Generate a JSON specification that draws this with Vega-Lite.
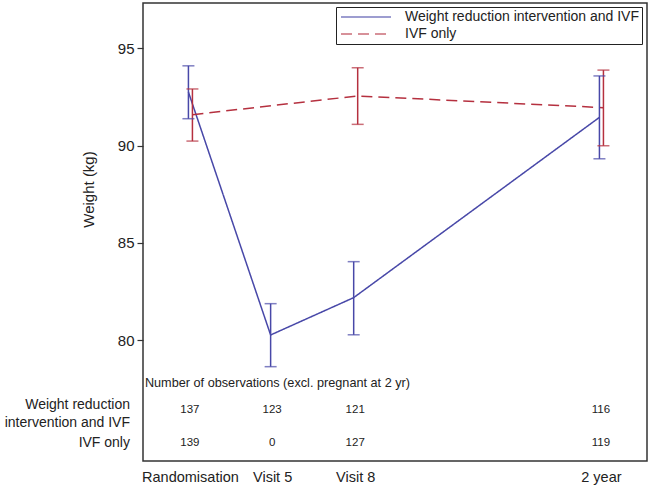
{
  "$schema": "https://vega.github.io/schema/vega-lite/v6.json",
  "width": 504,
  "height": 458,
  "autosize": {"type": "none"},
  "padding": {"left": 143, "top": 3, "right": 3, "bottom": 24},
  "background": "white",
  "config": {
    "font": "Liberation Sans",
    "view": {"stroke": "#333", "strokeWidth": 1.5},
    "axis": {"grid": false, "labelColor": "#222", "titleColor": "#222", "titleFontWeight": "normal"}
  },
  "datasets": {
    "means": [
      {"group": "Weight reduction intervention and IVF", "month": 0, "weight": 92.75, "lower": 91.38, "upper": 94.1},
      {"group": "Weight reduction intervention and IVF", "month": 4.8, "weight": 80.26, "lower": 78.63, "upper": 81.87},
      {"group": "Weight reduction intervention and IVF", "month": 9.65, "weight": 82.18, "lower": 80.27, "upper": 84.03},
      {"group": "Weight reduction intervention and IVF", "month": 24, "weight": 91.45, "lower": 89.32, "upper": 93.58},
      {"group": "IVF only", "month": 0, "weight": 91.59, "lower": 90.23, "upper": 92.91},
      {"group": "IVF only", "month": 9.65, "weight": 92.55, "lower": 91.09, "upper": 94.0},
      {"group": "IVF only", "month": 24, "weight": 91.95, "lower": 89.99, "upper": 93.88}
    ],
    "counts": [
      {"group": "Weight reduction intervention and IVF", "month": 0, "n": 137},
      {"group": "Weight reduction intervention and IVF", "month": 4.8, "n": 123},
      {"group": "Weight reduction intervention and IVF", "month": 9.65, "n": 121},
      {"group": "Weight reduction intervention and IVF", "month": 24, "n": 116},
      {"group": "IVF only", "month": 0, "n": 139},
      {"group": "IVF only", "month": 4.8, "n": 0},
      {"group": "IVF only", "month": 9.65, "n": 127},
      {"group": "IVF only", "month": 24, "n": 119}
    ]
  },
  "encoding": {
    "y": {
      "type": "quantitative",
      "scale": {"domain": [73.78, 97.33], "nice": false, "zero": false},
      "axis": {
        "values": [80, 85, 90, 95],
        "domain": false, "tickSize": 6, "tickColor": "#333", "tickWidth": 1.2,
        "labelFontSize": 15, "labelPadding": 3,
        "title": "Weight (kg)", "titleFontSize": 15, "titleX": -55, "titleY": 186,
        "titleBaseline": "middle", "titleAngle": -90
      }
    }
  },
  "layer": [
    {
      "data": {"name": "means"},
      "transform": [{"filter": "datum.group == 'Weight reduction intervention and IVF'"}],
      "mark": {"type": "line", "xOffset": -1.5, "strokeWidth": 1.5},
      "encoding": {
        "x": {
          "field": "month", "type": "quantitative",
          "scale": {"domain": [-2.74, 26.69], "nice": false, "zero": false},
          "axis": {
            "values": [0, 4.8, 9.65, 24],
            "labelExpr": "datum.value == 0 ? 'Randomisation' : datum.value < 6 ? 'Visit 5' : datum.value < 12 ? 'Visit 8' : '2 year'",
            "ticks": false, "domain": false, "title": null,
            "labelFontSize": 14.5, "labelPadding": 9, "labelFlush": false, "labelOverlap": false
          }
        },
        "y": {"field": "weight"},
        "color": {"field": "group", "type": "nominal",
          "scale": {"domain": ["Weight reduction intervention and IVF", "IVF only"], "range": ["#4848a8", "#b5303f"]},
          "legend": {
            "orient": "none", "legendX": 193, "legendY": 4, "title": null,
            "symbolType": "M-1,0H9", "symbolSize": 100, "symbolStrokeWidth": 1.5,
            "labelFontSize": 14, "labelColor": "#222", "labelOffset": 52, "labelLimit": 400,
            "strokeColor": "#222", "fillColor": "white", "padding": 3, "rowPadding": 3
          }
        },
        "strokeDash": {"field": "group", "type": "nominal",
          "scale": {"domain": ["Weight reduction intervention and IVF", "IVF only"], "range": [[1, 0], [11, 6]]},
          "legend": {
            "orient": "none", "legendX": 193, "legendY": 4, "title": null,
            "symbolType": "M-1,0H9", "symbolSize": 100, "symbolStrokeWidth": 1.5,
            "labelFontSize": 14, "labelColor": "#222", "labelOffset": 52, "labelLimit": 400,
            "strokeColor": "#222", "fillColor": "white", "padding": 3, "rowPadding": 3
          }
        }
      }
    },
    {
      "data": {"name": "means"},
      "transform": [{"filter": "datum.group == 'IVF only'"}],
      "mark": {"type": "line", "xOffset": 2.5, "strokeWidth": 1.5},
      "encoding": {
        "x": {"field": "month", "type": "quantitative"},
        "y": {"field": "weight"},
        "color": {"field": "group", "type": "nominal"},
        "strokeDash": {"field": "group", "type": "nominal"}
      }
    },
    {
      "data": {"name": "means"},
      "transform": [{"filter": "datum.group == 'Weight reduction intervention and IVF'"}],
      "mark": {"type": "rule", "xOffset": -1.5, "strokeWidth": 1.5},
      "encoding": {"x": {"field": "month", "type": "quantitative"}, "y": {"field": "lower"}, "y2": {"field": "upper"}, "color": {"field": "group", "type": "nominal"}}
    },
    {
      "data": {"name": "means"},
      "transform": [{"filter": "datum.group == 'IVF only'"}],
      "mark": {"type": "rule", "xOffset": 2.5, "strokeWidth": 1.5},
      "encoding": {"x": {"field": "month", "type": "quantitative"}, "y": {"field": "lower"}, "y2": {"field": "upper"}, "color": {"field": "group", "type": "nominal"}}
    },
    {
      "data": {"name": "means"},
      "transform": [{"filter": "datum.group == 'Weight reduction intervention and IVF'"}],
      "mark": {"type": "tick", "orient": "horizontal", "xOffset": -1.5, "size": 12, "thickness": 1.5},
      "encoding": {"x": {"field": "month", "type": "quantitative"}, "y": {"field": "lower"}, "color": {"field": "group", "type": "nominal"}}
    },
    {
      "data": {"name": "means"},
      "transform": [{"filter": "datum.group == 'Weight reduction intervention and IVF'"}],
      "mark": {"type": "tick", "orient": "horizontal", "xOffset": -1.5, "size": 12, "thickness": 1.5},
      "encoding": {"x": {"field": "month", "type": "quantitative"}, "y": {"field": "upper"}, "color": {"field": "group", "type": "nominal"}}
    },
    {
      "data": {"name": "means"},
      "transform": [{"filter": "datum.group == 'IVF only'"}],
      "mark": {"type": "tick", "orient": "horizontal", "xOffset": 2.5, "size": 12, "thickness": 1.5},
      "encoding": {"x": {"field": "month", "type": "quantitative"}, "y": {"field": "lower"}, "color": {"field": "group", "type": "nominal"}}
    },
    {
      "data": {"name": "means"},
      "transform": [{"filter": "datum.group == 'IVF only'"}],
      "mark": {"type": "tick", "orient": "horizontal", "xOffset": 2.5, "size": 12, "thickness": 1.5},
      "encoding": {"x": {"field": "month", "type": "quantitative"}, "y": {"field": "upper"}, "color": {"field": "group", "type": "nominal"}}
    },
    {
      "data": {"values": [{"label": "Number of observations (excl. pregnant at 2 yr)"}]},
      "mark": {"type": "text", "align": "left", "baseline": "middle", "fontSize": 12.7, "color": "#222"},
      "encoding": {"x": {"datum": -2.63}, "y": {"datum": 77.8}, "text": {"field": "label"}}
    },
    {
      "data": {"values": [{"label": "Weight reduction\nintervention and IVF"}]},
      "mark": {"type": "text", "align": "right", "baseline": "middle", "fontSize": 14, "color": "#222",
               "lineHeight": 18, "lineBreak": "\n"},
      "encoding": {"x": {"datum": -3.5}, "y": {"datum": 76.65}, "text": {"field": "label"}}
    },
    {
      "data": {"values": [{"label": "IVF only"}]},
      "mark": {"type": "text", "align": "right", "baseline": "middle", "fontSize": 14, "color": "#222"},
      "encoding": {"x": {"datum": -3.5}, "y": {"datum": 74.7}, "text": {"field": "label"}}
    },
    {
      "data": {"name": "counts"},
      "transform": [{"filter": "datum.group == 'Weight reduction intervention and IVF'"}],
      "mark": {"type": "text", "align": "center", "baseline": "middle", "fontSize": 11.5, "color": "#222"},
      "encoding": {"x": {"field": "month", "type": "quantitative"}, "y": {"datum": 76.4}, "text": {"field": "n", "type": "quantitative"}}
    },
    {
      "data": {"name": "counts"},
      "transform": [{"filter": "datum.group == 'IVF only'"}],
      "mark": {"type": "text", "align": "center", "baseline": "middle", "fontSize": 11.5, "color": "#222"},
      "encoding": {"x": {"field": "month", "type": "quantitative"}, "y": {"datum": 74.7}, "text": {"field": "n", "type": "quantitative"}}
    }
  ]
}
